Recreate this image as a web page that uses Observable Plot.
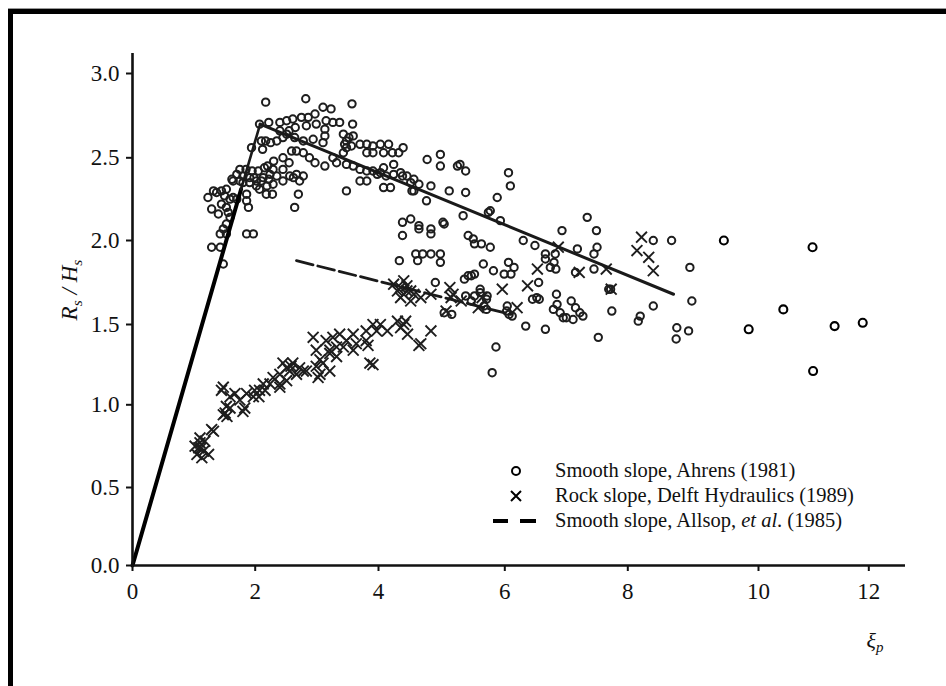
<!DOCTYPE html>
<html>
<head>
<meta charset="utf-8">
<script src="https://cdn.jsdelivr.net/npm/d3@7"></script>
<script src="https://cdn.jsdelivr.net/npm/@observablehq/plot@0.6"></script>
<style>
  html, body { margin: 0; padding: 0; background: #fff; }
  #wrap { position: relative; width: 946px; height: 686px; overflow: hidden; font-family: "Liberation Serif", "Times New Roman", serif; color: #111; }
  #wrap > svg { position: absolute; left: 0; top: 0; }
  #wrap > svg text { font-family: "Liberation Serif", "Times New Roman", serif !important; font-size: 23px !important; fill: #111; }
  .frame { position: absolute; left: 8px; top: 9px; width: 1000px; height: 700px; border-top: 5px solid #000; border-left: 5px solid #000; box-shadow: 0 -1px 0 #999; }
  .ylab { position: absolute; left: 70px; top: 290px; transform: translate(-50%, -50%) rotate(-90deg); white-space: nowrap; font-size: 23px; font-style: italic; }
  .xlab { position: absolute; left: 875px; top: 641px; transform: translate(-50%, -50%); white-space: nowrap; font-size: 22px; font-style: italic; }
  sub { font-size: 0.68em; vertical-align: -0.3em; line-height: 0; }
  .legend { position: absolute; left: 488px; top: 458px; }
  .row { position: relative; height: 25px; line-height: 25px; font-size: 20.5px; white-space: nowrap; padding-left: 67px; }
  .row svg { position: absolute; left: 0; top: 0; }
</style>
</head>
<body>
<div id="wrap">
  <div class="frame"></div>
</div>
<script>
// Tick values and their measured positions on the (slightly irregular) printed axes
const xTicks = [0, 2, 4, 6, 8, 10, 12];
const yTicks = [0, 0.5, 1, 1.5, 2, 2.5, 3];
const xTickRange = [132, 254.7, 378, 504.3, 627.3, 758, 868.3];
const yTickRange = [565, 487, 404.3, 324, 240, 157.3, 73];

// Smooth slope, Ahrens (1981): [xi_p, Rs/Hs]
const ahrens = [
  [1.23,2.26],[1.37,2.29],[1.32,2.30],[1.45,2.30],[1.53,2.31],[1.59,2.25],[1.64,2.26],[1.70,2.25],
  [1.29,2.19],[1.40,2.16],[1.53,2.20],[1.59,2.14],[1.53,2.10],[1.43,2.04],[1.53,2.04],[1.48,2.07],
  [1.50,2.27],[1.56,2.17],[1.45,2.22],
  [1.86,2.04],[1.97,2.04],[1.29,1.96],[1.43,1.96],[1.48,1.86],
  [1.86,2.24],[1.89,2.20],[1.86,2.28],
  [1.62,2.37],[1.70,2.40],[1.80,2.39],[1.91,2.38],[2.02,2.36],[2.13,2.38],[2.24,2.40],[1.80,2.35],
  [1.91,2.35],[2.02,2.33],[2.19,2.33],[2.29,2.34],[1.64,2.36],[1.75,2.36],[1.75,2.43],[1.85,2.43],[1.95,2.42],
  [2.05,2.42],[2.15,2.44],[1.98,2.38],[2.10,2.36],[2.22,2.37],
  [2.07,2.31],[2.18,2.28],[2.28,2.28],
  [2.35,2.39],[2.45,2.36],[2.56,2.39],[2.67,2.40],[2.78,2.39],[2.45,2.43],[2.29,2.43],[2.62,2.38],[2.72,2.36],
  [2.70,2.28],[2.64,2.20],[3.48,2.30],
  [2.17,2.83],[2.82,2.85],[3.57,2.82],[3.10,2.80],[3.23,2.79],[2.97,2.76],
  [2.07,2.70],[2.22,2.71],[2.40,2.71],[2.51,2.72],[2.61,2.73],[2.75,2.74],[2.86,2.74],
  [2.83,2.69],[2.99,2.70],[3.15,2.72],[3.26,2.71],[3.37,2.71],[3.58,2.70],
  [2.40,2.66],[2.51,2.64],[2.64,2.62],[2.78,2.60],[2.94,2.61],[3.10,2.59],[3.13,2.67],[3.13,2.63],
  [2.55,2.66],[2.65,2.68],[2.45,2.62],
  [3.43,2.64],[3.48,2.60],[3.48,2.56],[3.43,2.53],[3.59,2.63],[3.56,2.57],[3.52,2.62],[3.45,2.58],
  [3.70,2.58],[3.81,2.58],[3.91,2.57],[4.03,2.58],[4.16,2.58],[4.39,2.56],
  [3.81,2.53],[3.91,2.53],[4.08,2.53],[4.22,2.53],[4.32,2.53],
  [2.17,2.60],[2.25,2.59],[2.35,2.60],[1.94,2.56],[2.10,2.60],[2.12,2.55],
  [2.59,2.54],[2.67,2.54],[2.78,2.53],[2.97,2.47],[3.13,2.45],
  [2.30,2.48],[2.45,2.50],[2.55,2.47],[2.88,2.50],[2.20,2.45],
  [3.26,2.50],[3.32,2.47],[3.48,2.46],[3.59,2.45],[3.70,2.43],[3.81,2.42],[3.91,2.42],[4.03,2.41],
  [4.08,2.44],[4.24,2.46],[4.24,2.40],[4.35,2.41],[4.45,2.39],[4.56,2.37],[4.64,2.34],[4.12,2.39],[3.98,2.40],
  [3.70,2.36],[3.81,2.36],[4.08,2.32],[4.19,2.32],
  [4.38,2.39],[4.51,2.35],[4.56,2.30],
  [4.77,2.49],[4.98,2.52],[4.98,2.45],[5.25,2.45],[5.38,2.42],[5.29,2.46],
  [4.83,2.33],[5.12,2.30],[5.38,2.29],[4.76,2.24],[4.53,2.30],
  [6.06,2.41],[6.09,2.33],[5.88,2.26],[5.74,2.17],[5.93,2.12],
  [5.34,2.15],[5.77,2.18],
  [4.38,2.11],[4.51,2.13],[4.64,2.07],[4.83,2.04],[5.04,2.10],[4.38,2.03],[4.64,2.09],[4.83,2.07],[5.02,2.11],
  [5.42,2.03],[5.50,2.01],[5.63,1.98],[5.77,1.96],
  [6.30,2.00],[6.49,1.97],[6.66,1.92],[6.82,1.92],[6.93,2.06],[6.74,1.84],
  [7.34,2.14],[7.49,2.06],[7.50,1.96],[7.45,1.92],[7.18,1.95],
  [4.33,1.88],[4.59,1.92],[4.70,1.92],[4.62,1.88],[4.83,1.92],[4.98,1.92],[4.98,1.87],
  [4.90,1.75],[5.36,1.77],[5.47,1.79],[5.38,1.67],[5.47,1.64],
  [5.52,1.98],[5.66,1.86],[5.82,1.82],[5.52,1.80],[6.06,1.87],[6.15,1.84],[6.10,1.80],[5.99,1.80],[5.42,1.79],
  [5.61,1.71],[6.55,1.75],[7.72,1.71],[7.74,1.58],
  [8.39,2.00],[8.67,2.00],[8.95,1.84],[8.98,1.64],[8.39,1.61],[8.19,1.55],[8.16,1.52],[8.75,1.48],[8.74,1.41],[8.93,1.46],[7.52,1.42],
  [5.52,1.67],[5.71,1.65],[5.71,1.59],[6.03,1.58],[6.12,1.55],[6.34,1.49],[6.66,1.47],
  [6.45,1.65],[6.52,1.66],[6.56,1.65],
  [6.84,1.68],[6.79,1.59],[6.90,1.57],[7.00,1.54],[7.08,1.64],[7.22,1.57],[7.27,1.55],[7.11,1.53],[6.95,1.54],[6.85,1.62],[7.15,1.60],
  [5.86,1.36],[5.80,1.20],
  [5.16,1.56],[5.04,1.57],[6.04,1.61],[6.07,1.56],
  [5.61,1.69],[5.72,1.67],[5.67,1.61],
  [7.15,1.81],[7.45,1.83],[7.69,1.71],
  [6.66,1.89],[6.80,1.87],[6.83,1.83]
];

// Smooth slope, Ahrens (1981): the isolated points beyond xi_p = 9 (printed crisper)
const ahrensFar = [
  [9.47,2.00],[9.85,1.47],[10.45,1.59],[10.98,1.96],[11.38,1.49],[11.89,1.51],[10.99,1.21]
];

// Rock slope, Delft Hydraulics (1989)
const delft = [
  [1.02,0.75],[1.10,0.77],[1.16,0.72],[1.05,0.70],[1.24,0.70],[1.13,0.68],[1.32,0.84],[1.29,0.85],[1.10,0.80],[1.08,0.74],
  [1.12,0.74],[1.18,0.78],[1.54,0.93],
  [1.51,0.95],[1.53,0.99],[1.45,1.09],[1.59,1.05],[1.67,1.07],[1.75,1.03],[1.83,0.98],[1.86,1.07],[1.99,1.09],[2.06,1.05],
  [2.16,1.09],[2.24,1.13],[2.29,1.17],[2.40,1.11],[2.45,1.26],[2.51,1.15],[2.61,1.26],[2.56,1.21],[2.67,1.19],[2.78,1.21],
  [2.58,1.24],[3.05,1.28],
  [2.99,1.24],[3.02,1.17],[2.99,1.34],[3.10,1.26],[3.21,1.34],[3.21,1.21],[3.32,1.30],[3.43,1.36],[3.59,1.34],[3.86,1.26],
  [3.91,1.25],[3.83,1.37],[4.64,1.37],
  [1.48,1.11],[1.59,0.98],[1.48,0.94],[1.80,0.96],[1.97,1.05],[2.07,1.09],[2.13,1.13],[2.40,1.19],[2.51,1.23],[2.40,1.13],
  [2.72,1.23],[2.83,1.21],[3.05,1.19],
  [2.94,1.42],[3.15,1.40],[3.26,1.42],[3.37,1.44],[3.21,1.32],[3.32,1.36],[3.48,1.40],[3.59,1.44],[3.64,1.38],[3.80,1.46],
  [3.91,1.50],[4.03,1.50],[4.14,1.46],[3.80,1.40],[3.97,1.46],[4.30,1.52],[4.40,1.50],[4.46,1.44],[4.67,1.38],[4.83,1.46],
  [4.35,1.48],[4.43,1.52],
  [4.24,1.74],[4.35,1.72],[4.45,1.70],[4.56,1.68],[4.67,1.66],[4.35,1.66],[4.51,1.64],[4.40,1.76],[4.51,1.70],[4.83,1.68],[4.40,1.68],
  [4.45,1.73],[4.30,1.70],
  [5.13,1.72],[5.15,1.66],[5.07,1.58],[5.18,1.68],[5.31,1.64],[5.64,1.66],[5.58,1.60],[5.96,1.71],[6.20,1.60],[6.37,1.73],
  [6.53,1.83],[6.87,1.96],[7.21,1.81],[7.65,1.83],[7.73,1.71],[8.21,2.02],[8.14,1.94],[8.32,1.90],[8.39,1.82]
];

// Smooth slope, Allsop et al. (1985): dashed trend
const allsop = [[2.67,1.88],[6.10,1.56]];

// Solid envelope lines
const envelopeRise = [[0,0],[1.77,2.31]];
const envelopeRiseTop = [[1.77,2.31],[2.08,2.70]];
const envelopeFall = [[2.08,2.70],[8.70,1.68]];

// Piecewise-linear position scales matching the printed axes
const xs = d3.scaleLinear().domain(xTicks).range(xTickRange);
const ys = d3.scaleLinear().domain(yTicks).range(yTickRange);
const px = d => xs(d[0]), py = d => ys(d[1]);
const serif = "'Liberation Serif', 'Times New Roman', serif";

const chart = Plot.plot({
  width: 946,
  height: 686,
  marginLeft: 132,
  marginRight: 41,
  marginTop: 53,
  marginBottom: 121,
  x: {type: "identity"},
  y: {type: "identity"},
  style: {fontFamily: serif, fontSize: "23px", color: "#111", background: "transparent"},
  marks: [
    Plot.dot(ahrens, {x: px, y: py, r: 3.7, stroke: "#1e1e1e", strokeWidth: 2, fill: "none"}),
    Plot.dot(ahrensFar, {x: px, y: py, r: 4, stroke: "#000", strokeWidth: 2.1, fill: "none"}),
    Plot.dot(delft, {x: px, y: py, symbol: "times", r: 5, stroke: "#1e1e1e", strokeWidth: 1.9}),
    Plot.line(envelopeRise, {x: px, y: py, stroke: "#000", strokeWidth: 4}),
    Plot.line(envelopeRiseTop, {x: px, y: py, stroke: "#1a1a1a", strokeWidth: 2.6}),
    Plot.line(envelopeFall, {x: px, y: py, stroke: "#1a1a1a", strokeWidth: 3}),
    Plot.line(allsop, {x: px, y: py, stroke: "#1a1a1a", strokeWidth: 2.8, strokeDasharray: "17,5"}),
    Plot.ruleX([xs(0)], {stroke: "#111", strokeWidth: 2.6}),
    Plot.ruleY([ys(0)], {stroke: "#111", strokeWidth: 2.4}),
    Plot.axisX(xTicks.map(xs), {anchor: "bottom", tickSize: 6, tickPadding: 11, tickFormat: d => String(Math.round(xs.invert(d))), fontSize: 23, fontFamily: serif, stroke: "#111", strokeWidth: 2, label: null}),
    Plot.axisY(yTicks.map(ys), {anchor: "left", tickSize: 6, tickPadding: 7, tickFormat: d => d3.format(".1f")(ys.invert(d)), fontSize: 23, fontFamily: serif, stroke: "#111", strokeWidth: 2, label: null})
  ]
});

const wrap = document.getElementById("wrap");
wrap.appendChild(chart);

// Axis titles
const ylab = document.createElement("div");
ylab.className = "ylab";
ylab.innerHTML = "R<sub>s</sub> / H<sub>s</sub>";
wrap.appendChild(ylab);

const xlab = document.createElement("div");
xlab.className = "xlab";
xlab.innerHTML = "ξ<sub>p</sub>";
wrap.appendChild(xlab);

// Legend
const legend = document.createElement("div");
legend.className = "legend";
legend.innerHTML = `
  <div class="row"><svg width="60" height="25"><circle cx="28" cy="13" r="4" fill="none" stroke="#000" stroke-width="2"/></svg>Smooth slope, Ahrens (1981)</div>
  <div class="row"><svg width="60" height="25"><path d="M23,8L33,18M33,8L23,18" stroke="#000" stroke-width="2"/></svg>Rock slope, Delft Hydraulics (1989)</div>
  <div class="row"><svg width="60" height="25"><path d="M5,13H20M32,13H48" stroke="#000" stroke-width="4"/></svg>Smooth slope, Allsop, <i>et al</i>. (1985)</div>`;
wrap.appendChild(legend);
</script>
</body>
</html>
